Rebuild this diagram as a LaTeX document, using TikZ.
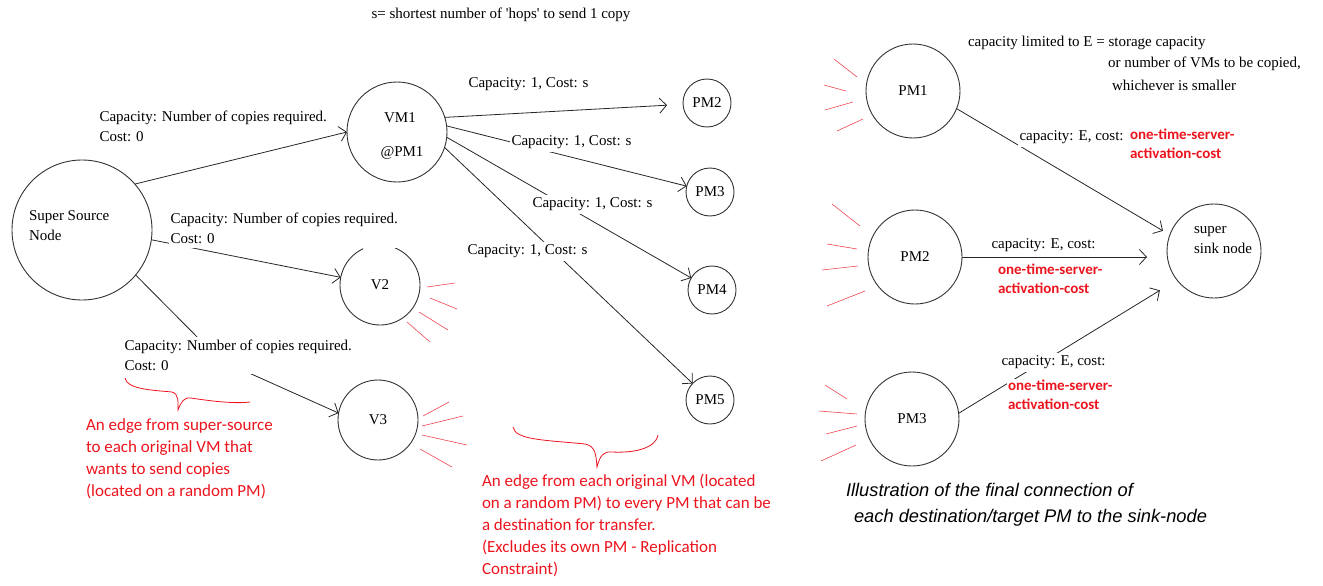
\documentclass[tikz,border=0pt]{standalone}
\usepackage{fontspec}
\setmainfont{Liberation Serif}
\newfontfamily\notefont{Carlito}
\newfontfamily\captionfont{Liberation Sans}
\usetikzlibrary{arrows.meta}
\definecolor{notered}{RGB}{236,20,30}
\definecolor{rayred}{RGB}{238,70,82}
\begin{document}
\begin{tikzpicture}[x=1pt,y=-1pt,
  every node/.style={inner sep=0pt, outer sep=0pt},
  vertex/.style={circle, draw=black!80, line width=0.9pt, minimum size=#1,
    font=\fontsize{15}{18}\selectfont},
  vertex/.default=48pt,
  plain/.style={font=\fontsize{15}{20}\selectfont},
  flow/.style={draw=black!85, line width=0.8pt,
    -{Straight Barb[length=7pt,width=15pt,line width=0.8pt]}},
  edgelabel/.style={fill=white, inner xsep=1.5pt, inner ysep=3pt, align=left,
    anchor=north west, font=\fontsize{15}{20}\selectfont},
  costnote/.style={fill=white, inner sep=1pt, align=left, anchor=north west,
    text=notered, font=\notefont\bfseries\fontsize{15}{18.5}\selectfont},
  remark/.style={align=left, anchor=north west, text=notered,
    font=\notefont\fontsize{17}{22}\selectfont},
  captiontext/.style={anchor=west, font=\captionfont\itshape\fontsize{18.3}{22}\selectfont},
  ray/.style={draw=rayred, line width=0.6pt},
  brace/.style={draw=notered, line width=0.8pt},
]
\useasboundingbox (0,0) rectangle (1323,586);

% ---------- flow network: source, original VMs, target PMs ----------
\node[vertex=140pt] (ss) at (82,230) {};
\node[plain, anchor=west, align=left] (sstext) at (29,226) {Super Source\\Node};

\node[vertex=100pt] (vm1) at (397,132) {};
\node[plain] (vm1name) at (400,118) {VM1};
\node[plain] (vm1host) at (402,153) {@PM1};

\node[vertex=80pt, draw=none] (v2) at (380,285) {V2};
\draw[black!80, line width=0.9pt] (v2.68) arc[start angle=-68, end angle=245, radius=40];
\node[vertex=80pt] (v3) at (378,420) {V3};

\node[vertex] (pm2) at (707,103) {PM2};
\node[vertex] (pm3) at (710,192) {PM3};
\node[vertex] (pm4) at (712,290) {PM4};
\node[vertex] (pm5) at (710,400) {PM5};

\coordinate (bend3) at (220,360);
\draw[flow] (ss.41) -- (vm1.west);
\draw[flow] (ss.-8) -- (v2.169);
\draw[flow] (ss.-40) -- (bend3) -- (v3.170);

\draw[flow, shorten >=16pt] (vm1.17) -- (pm2);
\draw[flow] (vm1.7) -- (pm3);
\draw[flow] (vm1.-6) -- (pm4);
\draw[flow] (vm1.-18) -- (pm5);

\node[edgelabel, fill=none] (cap1) at (98,108) {Capacity: Number of copies required.\\Cost: 0};
\node[edgelabel, inner ysep=4.5pt] (cap2) at (169,208) {Capacity: Number of copies required.\\Cost: 0};
\node[edgelabel] (cap3) at (123,337) {Capacity: Number of copies required.\\Cost: 0};

\node[edgelabel] (c2) at (467,75) {Capacity: 1, Cost: s};
\node[edgelabel] (c3) at (510,133) {Capacity: 1, Cost: s};
\node[edgelabel] (c4) at (531,195) {Capacity: 1, Cost: s};
\node[edgelabel] (c5) at (466,242) {Capacity: 1, Cost: s};

\node[plain] (hops) at (501,15) {s= shortest number of \textquotesingle hops\textquotesingle\ to send 1 copy};

% outgoing stubs around V2 and V3
\draw[ray] (427,287) -- (455,283);
\draw[ray] (430,298) -- (457,309);
\draw[ray] (419,312) -- (448,330);
\draw[ray] (407,322) -- (430,342);
\draw[ray] (423,416) -- (449,402);
\draw[ray] (422,426) -- (463,416);
\draw[ray] (422,435) -- (467,445);
\draw[ray] (420,449) -- (452,467);

% braces and remarks
\draw[brace] (125,378) .. controls (127,389) and (150,390) .. (172,392)
  .. controls (179,394) and (178,402) .. (178,410)
  .. controls (181,402) and (184,397) .. (191,398)
  .. controls (210,401) and (235,404) .. (250,402);
\draw[brace] (513,427) .. controls (515,440) and (545,440) .. (585,444)
  .. controls (596,446) and (596,456) .. (597,467)
  .. controls (600,456) and (603,451) .. (612,452)
  .. controls (630,453) and (655,450) .. (658,435);

\node[remark] (remleft) at (86,419) {An edge from super-source\\to each original VM that\\wants to send copies\\(located on a random PM)};
\node[remark] (remright) at (482,474) {An edge from each original VM (located\\on a random PM) to every PM that can be\\a destination for transfer.\\(Excludes its own PM - Replication\\Constraint)};

% ---------- connection of target PMs to the sink ----------
\node[vertex=94pt] (rpm1) at (913,91) {PM1};
\node[vertex=94pt] (rpm2) at (915,257) {PM2};
\node[vertex=94pt] (rpm3) at (912,419) {PM3};
\node[vertex=94pt] (sink) at (1214,251) {};
\node[plain, anchor=west, align=left] (sinktext) at (1194,240) {super\\sink node};

\draw[flow, shorten >=8pt] (rpm1.-22) -- (sink.160);
\draw[flow, shorten >=20pt] (rpm2.east) -- (rpm2.east -| sink.west);
\draw[flow, shorten >=20pt] (rpm3.7) -- (sink.218);

\node[edgelabel] (e1) at (1018,128) {capacity: E, cost:};
\node[costnote] (e1c) at (1129,128) {one-time-server-\\activation-cost};
\node[edgelabel, fill=none] (e2) at (990,236) {capacity: E, cost:};
\node[costnote] (e2c) at (997,263) {one-time-server-\\activation-cost};
\node[edgelabel] (e3) at (1000,353) {capacity: E, cost:};
\node[costnote] (e3c) at (1007,379) {one-time-server-\\activation-cost};

\node[plain, anchor=west] (note1) at (968,43) {capacity limited to E = storage capacity};
\node[plain, anchor=west] (note2) at (1108,64) {or number of VMs to be copied,};
\node[plain, anchor=west] (note3) at (1112,85) {whichever is smaller};

% incoming stubs around the target PMs
\draw[ray] (834,59) -- (857,77);
\draw[ray] (824,85) -- (846,91);
\draw[ray] (825,110) -- (853,102);
\draw[ray] (837,131) -- (863,119);
\draw[ray] (832,204) -- (860,226);
\draw[ray] (827,244) -- (857,249);
\draw[ray] (822,270) -- (858,266);
\draw[ray] (827,306) -- (865,291);
\draw[ray] (825,385) -- (847,399);
\draw[ray] (819,411) -- (857,414);
\draw[ray] (826,434) -- (857,426);
\draw[ray] (821,461) -- (856,445);

\node[captiontext] (capline1) at (846,490) {Illustration of the final connection of};
\node[captiontext] (capline2) at (854,518) {each destination/target PM to the sink-node};
\end{tikzpicture}
\end{document}
